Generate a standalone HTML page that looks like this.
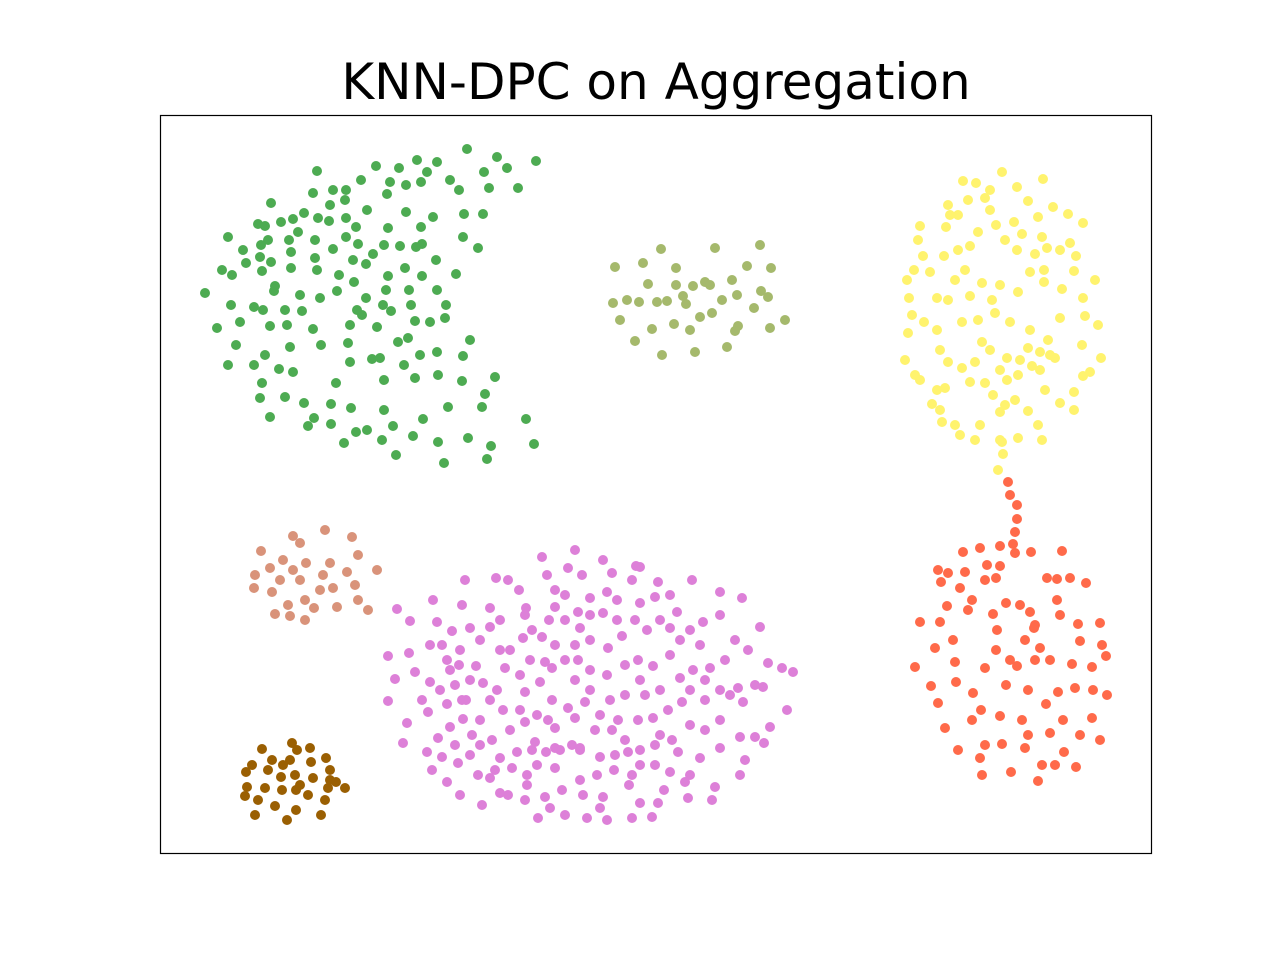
<!DOCTYPE html>
<html><head><meta charset="utf-8"><style>
html,body{margin:0;padding:0;background:#fff;}
svg{display:block;}
</style></head>
<body>
<svg id="chart" width="1280" height="960" xmlns="http://www.w3.org/2000/svg">
<text x="656" y="99" text-anchor="middle" font-family="DejaVu Sans, Liberation Sans, sans-serif" font-size="50">KNN-DPC on Aggregation</text>
<g id="points"></g>
<rect x="160.5" y="115.5" width="991" height="738" fill="none" stroke="#000" stroke-width="1.2"/>
</svg>
<script>
const xDomain=[160,1152];
const yDomain=[115,853];
const greenX=[317,376,399,417,437,467,497,507,536,518,484,489,459,450,427,421,406,390,387,361,346,333,313,330,345,367,304,271,265,258,281,293,318,329,346,356,388,406,433,464,483,421,422,463,478,436,416,400,384,373,358,346,333,315,298,289,268,261,243,228,246,260,271,291,315,317,291,262,232,222,205,231,217,240,236,228,254,265,262,260,270,285,293,279,304,308,314,331,344,356,367,384,393,382,396,413,423,438,444,448,468,487,491,482,485,495,526,534,462,438,415,404,384,372,350,336,331,351,380,398,408,420,463,470,437,445,430,415,411,391,377,362,350,348,321,313,290,270,287,302,320,300,274,275,254,263,285,337,354,366,386,409,437,446,422,405,388,366,353,339,456,383,357];
const greenY=[171,166,168,160,162,149,157,168,161,188,172,188,190,180,172,182,185,182,194,180,190,190,193,205,200,210,213,203,226,224,222,219,218,221,218,227,228,212,217,214,214,227,244,237,248,260,247,246,245,254,244,237,249,240,232,240,240,245,250,237,263,257,262,252,258,270,268,271,275,270,293,305,328,322,345,365,365,355,383,398,417,397,372,369,403,426,418,424,443,432,430,410,426,440,455,436,419,442,463,407,438,459,446,407,394,377,419,444,381,375,378,365,380,359,362,383,404,408,358,342,338,355,356,340,352,318,322,321,305,311,327,315,325,343,345,329,347,326,325,311,298,295,291,286,307,310,310,291,282,298,290,290,290,305,276,268,276,264,260,275,274,305,310];
const oliveX=[615,661,643,676,715,760,747,771,705,710,693,732,648,627,613,639,667,686,700,712,737,761,768,785,770,754,738,727,695,690,674,662,652,635,620,676,722,657,683,735];
const oliveY=[267,249,263,268,248,245,266,268,282,285,286,280,284,300,303,302,301,304,317,313,295,291,297,320,328,308,326,347,352,330,324,355,329,341,320,285,300,302,296,331];
const yellowX=[963,976,1002,1017,1043,1053,1028,1038,1068,1083,1070,1076,1074,1095,1083,1085,1098,1082,1101,1090,1083,1074,1074,1060,1045,1040,1055,1048,1060,1062,1044,1044,1035,1017,1005,990,985,968,958,946,920,918,923,914,907,909,912,908,905,915,920,937,945,932,940,942,955,960,975,980,1000,1002,1018,1038,1042,1028,1015,993,985,970,962,948,940,937,924,937,930,944,958,970,978,996,1014,1022,1042,1047,1060,1030,1018,1000,982,965,955,948,962,978,995,1010,1030,1028,1020,1007,990,982,975,1000,1018,1040,1050,1032,1007,1005,992,970,1003,998,1000,950,948,990];
const yellowY=[181,183,172,187,179,207,201,217,214,223,243,256,271,280,298,316,325,345,358,372,376,392,410,403,390,370,358,340,318,289,282,270,254,250,240,210,198,200,215,227,226,240,256,270,280,298,315,333,360,375,380,390,388,404,410,422,425,435,440,425,412,442,438,425,440,411,400,395,383,382,368,362,350,330,322,298,272,256,250,246,232,225,222,234,237,248,250,272,292,285,283,270,280,300,322,320,313,322,330,348,360,358,350,342,362,370,375,352,355,366,380,405,300,296,454,470,440,215,205,190];
const redX=[1008,1010,1017,1017,1015,1013,1015,1000,980,963,948,938,941,960,972,965,987,1000,996,1031,1062,1047,1057,1070,1086,1057,1060,1035,1025,1034,1078,1100,1102,1080,1072,1092,1106,1093,1107,1092,1080,1100,1076,1064,1055,1042,1038,1025,1028,1011,1002,985,980,982,958,945,938,931,915,920,940,935,953,955,956,973,972,985,996,997,993,985,1006,1020,1030,1017,1006,1000,1022,1046,1058,1063,1050,1075,1050,1040,1028,968,947,1010,981,1035];
const redY=[482,495,505,519,532,544,553,546,548,552,573,570,582,588,600,572,565,566,578,552,551,578,579,578,583,600,615,625,640,628,624,623,645,641,664,667,656,690,695,718,735,740,767,752,765,765,781,748,735,772,744,745,758,775,750,728,703,686,667,622,622,648,640,662,682,693,720,668,650,630,614,580,603,605,612,666,685,716,720,704,692,720,733,688,660,648,690,610,606,660,710,660];
const salmonX=[261,293,300,325,352,358,330,306,283,270,255,254,280,300,323,333,355,377,347,320,305,288,275,290,305,314,337,358,368,272,293];
const salmonY=[551,536,543,530,537,555,563,563,560,568,575,588,580,580,575,588,585,570,572,590,600,605,614,616,620,608,607,600,610,592,570];
const brownX=[262,292,297,310,326,311,290,272,252,246,268,281,295,313,330,336,345,328,308,296,282,265,247,245,258,275,296,325,255,287,321,300,330,283];
const brownY=[749,743,750,748,758,762,760,760,765,772,770,777,775,778,770,782,788,788,795,790,790,788,787,796,800,806,810,800,815,820,815,785,780,765];
const pinkX=[575,542,603,636,640,612,547,568,582,496,508,465,519,590,607,632,658,692,720,742,760,768,782,793,763,755,743,787,770,764,755,740,745,740,715,712,688,685,664,658,640,652,632,607,600,587,565,550,538,525,500,482,460,447,432,427,403,407,388,395,388,409,410,397,433,462,490,470,452,437,430,415,430,422,428,447,466,463,450,438,455,470,480,492,500,517,527,527,508,490,478,458,442,545,562,583,603,629,632,614,600,580,572,555,546,535,525,510,503,497,483,476,459,447,442,460,480,490,500,526,532,555,549,565,578,580,603,617,617,640,655,670,677,660,647,635,622,608,590,575,555,542,523,510,505,520,525,540,552,565,575,590,607,625,638,653,670,680,690,703,720,735,748,725,710,693,690,682,668,653,638,618,600,585,568,552,537,555,575,595,612,625,640,655,672,690,705,720,730,738,720,705,720,700,690,670,655,660,678,580,560,520,480,490,455,440,450,470,680,700,670,545,530,590,625,645,660,610,578,565,555,590,548,532,512,495,472,462,640,705,525,500,597,580,555,537,640,628,615];
const pinkY=[550,557,560,566,567,573,575,568,575,578,580,580,590,598,592,580,582,580,592,598,627,663,668,672,687,685,702,710,727,743,737,737,760,775,787,800,798,782,790,803,803,817,818,820,808,818,815,808,818,800,793,805,795,782,770,752,743,723,701,679,656,653,621,609,600,605,608,628,631,622,645,672,682,700,712,704,700,719,727,738,745,755,745,740,758,752,775,785,795,778,775,763,757,797,790,795,797,785,775,770,757,750,745,748,752,742,722,730,710,690,683,666,665,660,645,650,640,627,620,608,630,607,620,595,612,628,613,620,600,603,597,595,612,620,630,620,636,648,640,645,645,637,638,650,668,675,692,682,668,660,680,670,675,665,660,666,655,640,630,622,615,640,650,660,668,670,690,702,710,718,720,720,715,702,708,700,715,728,718,730,730,740,750,745,740,725,730,720,695,688,690,680,748,758,775,772,765,735,752,748,750,710,720,700,685,690,670,680,678,645,628,662,660,690,695,695,690,700,660,620,590,615,720,750,768,770,735,700,680,700,615,650,775,780,768,765,765,752,755];
const series=[
 {name:'green',xs:greenX,ys:greenY,color:'#4dab52'},
 {name:'olive',xs:oliveX,ys:oliveY,color:'#a5b96c'},
 {name:'yellow',xs:yellowX,ys:yellowY,color:'#fff36e'},
 {name:'red',xs:redX,ys:redY,color:'#ff6a4a'},
 {name:'salmon',xs:salmonX,ys:salmonY,color:'#d9937a'},
 {name:'brown',xs:brownX,ys:brownY,color:'#9a5f02'},
 {name:'pink',xs:pinkX,ys:pinkY,color:'#dd80d8'}
];
const plot={left:160,right:1152,top:115,bottom:853};
function sx(v){return plot.left+(v-xDomain[0])/(xDomain[1]-xDomain[0])*(plot.right-plot.left);}
function sy(v){return plot.top+(v-yDomain[0])/(yDomain[1]-yDomain[0])*(plot.bottom-plot.top);}
const g=document.getElementById('points');
const NS='http://www.w3.org/2000/svg';
series.forEach(s=>{
  const grp=document.createElementNS(NS,'g');
  
  
  for(let i=0;i<s.xs.length;i++){
    const c=document.createElementNS(NS,'circle');
    c.setAttribute('cx',sx(s.xs[i]));
    c.setAttribute('cy',sy(s.ys[i]));
    c.setAttribute('r',5);
    c.setAttribute('fill',s.color);
    
    
    grp.appendChild(c);
  }
  g.appendChild(grp);
});
</script>
</body></html>
